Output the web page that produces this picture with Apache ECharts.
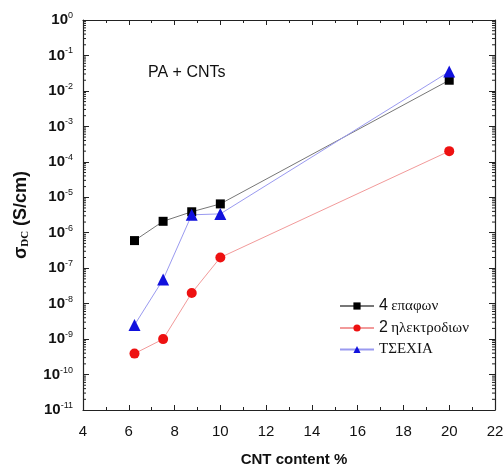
<!DOCTYPE html>
<html>
<head>
<meta charset="utf-8">
<script src="https://cdn.jsdelivr.net/npm/echarts@6/dist/echarts.min.js"></script>
<style>html,body{margin:0;padding:0;background:#fff}#c{width:504px;height:468px}</style>
</head>
<body>
<div id="c"></div>
<script>
// Data
var cntContent = [6.25, 7.5, 8.75, 10, 20];
var contacts4 = [6e-7, 2.1e-6, 3.9e-6, 6.5e-6, 2e-2];
var electrodes2 = [3.9e-10, 1e-9, 2e-8, 2e-7, 2e-4];
var tsexia = [2.5e-9, 4.8e-8, 3.2e-6, 3.4e-6, 3.5e-2];
var seriesNames = ['4 επαφων', '2 ηλεκτροδιων', 'ΤΣΕΧΙΑ'];
var xTicks = [4, 6, 8, 10, 12, 14, 16, 18, 20, 22];
var yExponents = [-11, -10, -9, -8, -7, -6, -5, -4, -3, -2, -1, 0];

function pairs(ys) { return cntContent.map(function (x, i) { return [x, ys[i]]; }); }

var chart = echarts.init(document.getElementById('c'), null, {renderer: 'canvas'});
var fontMain = 'Liberation Sans, Arial, sans-serif';
var fontSerif = 'Liberation Serif, DejaVu Serif, serif';

var axisLine = {lineStyle: {color: '#222', width: 1.2}};
var yLabelFmt = function (v) {
  var e = Math.round(Math.log10(v));
  return '{b|10}{s|' + e + '}';
};
var legendFmt = function (name) {
  var sp = name.indexOf(' ');
  if (sp > 0 && /^[0-9]+$/.test(name.slice(0, sp))) {
    return '{n|' + name.slice(0, sp) + '} {g|' + name.slice(sp + 1) + '}';
  }
  return '{g|' + name + '}';
};

var option = {
  animation: false,
  backgroundColor: '#fff',
  title: {
    text: 'PA + CNTs', left: 143, top: 60,
    textStyle: {fontFamily: fontMain, fontSize: 16, fontWeight: 'normal', color: '#111'}
  },
  grid: {left: 83, right: 9, top: 20, bottom: 58, containLabel: false, outerBoundsMode: 'none'},
  legend: {
    orient: 'vertical', left: 334, top: 293, itemGap: 6,
    itemWidth: 34, itemHeight: 9,
    data: seriesNames,
    formatter: legendFmt,
    textStyle: {
      color: '#111',
      rich: {
        n: {fontFamily: fontMain, fontSize: 16, color: '#111'},
        g: {fontFamily: fontSerif, fontSize: 15, color: '#111'}
      }
    }
  },
  xAxis: [{
    type: 'value', min: xTicks[0], max: xTicks[xTicks.length - 1], interval: 2,
    name: 'CNT content %', nameLocation: 'middle', nameGap: 42,
    nameTextStyle: {fontFamily: fontMain, fontSize: 15, fontWeight: 'bold', color: '#111', padding: [0, 0, 0, 10]},
    axisLine: axisLine,
    axisTick: {inside: true, length: 5, lineStyle: {color: '#222'}},
    minorTick: {show: true, splitNumber: 2, length: 3, lineStyle: {color: '#222'}},
    axisLabel: {fontFamily: fontMain, fontSize: 15, color: '#111', margin: 14},
    splitLine: {show: false}
  }, {
    type: 'value', position: 'top', min: xTicks[0], max: xTicks[xTicks.length - 1], interval: 2,
    axisLine: axisLine,
    axisTick: {inside: true, length: 5, lineStyle: {color: '#222'}},
    minorTick: {show: true, splitNumber: 2, length: 3, lineStyle: {color: '#222'}},
    axisLabel: {show: false}, splitLine: {show: false}
  }],
  yAxis: [{
    type: 'log', logBase: 10, interval: 1,
    min: Math.pow(10, yExponents[0]), max: Math.pow(10, yExponents[yExponents.length - 1]),
    name: '{g|σ}{d|DC}{u| (S/cm)}', nameLocation: 'middle', nameGap: 52, nameRotate: 90,
    nameTextStyle: {
      rich: {
        g: {fontFamily: fontMain, fontSize: 18, fontWeight: 'bold', color: '#111'},
        d: {fontFamily: 'Liberation Serif, serif', fontSize: 11, fontWeight: 'bold', color: '#111', padding: [9, 0, 0, 0]},
        u: {fontFamily: fontMain, fontSize: 18, fontWeight: 'bold', color: '#111'}
      }
    },
    axisLine: axisLine,
    axisTick: {inside: true, length: 6, interval: 0, lineStyle: {color: '#222'}},
    axisLabel: {
      formatter: yLabelFmt, margin: 10, interval: 0, hideOverlap: false,
      rich: {
        b: {fontFamily: fontMain, fontSize: 15, color: '#111', fontWeight: 'bold'},
        s: {fontFamily: fontMain, fontSize: 9, color: '#111', padding: [0, 0, 9, 0]}
      }
    },
    splitLine: {show: false}
  }, {
    type: 'log', logBase: 10, position: 'right', interval: 1,
    min: Math.pow(10, yExponents[0]), max: Math.pow(10, yExponents[yExponents.length - 1]),
    axisLine: axisLine,
    axisTick: {inside: true, length: 6, interval: 0, lineStyle: {color: '#222'}},
    axisLabel: {show: false}, splitLine: {show: false}
  }],
  series: [{
    name: seriesNames[0], type: 'line', data: pairs(contacts4),
    symbol: 'rect', symbolSize: 9,
    itemStyle: {color: '#000'}, lineStyle: {color: '#777', width: 1}
  }, {
    name: seriesNames[1], type: 'line', data: pairs(electrodes2),
    symbol: 'circle', symbolSize: 10,
    itemStyle: {color: '#ee1111'}, lineStyle: {color: '#f29a9a', width: 1}
  }, {
    name: seriesNames[2], type: 'line', data: pairs(tsexia),
    symbol: 'triangle', symbolSize: 12,
    itemStyle: {color: '#1111dd'}, lineStyle: {color: '#9a9af0', width: 1}
  }]
};
chart.setOption(option);

// log-spaced minor ticks on left and right y axes
var g = [];
var xl = chart.convertToPixel({xAxisIndex: 0}, xTicks[0]);
var xr = chart.convertToPixel({xAxisIndex: 0}, xTicks[xTicks.length - 1]);
for (var k = 0; k < yExponents.length - 1; k++) {
  for (var m = 2; m <= 9; m++) {
    var py = chart.convertToPixel({yAxisIndex: 0}, m * Math.pow(10, yExponents[k]));
    g.push({type: 'line', shape: {x1: xl, y1: py, x2: xl + 3, y2: py}, style: {stroke: '#222', lineWidth: 1}, silent: true});
    g.push({type: 'line', shape: {x1: xr, y1: py, x2: xr - 3, y2: py}, style: {stroke: '#222', lineWidth: 1}, silent: true});
  }
}
chart.setOption({graphic: g});
</script>
</body>
</html>
